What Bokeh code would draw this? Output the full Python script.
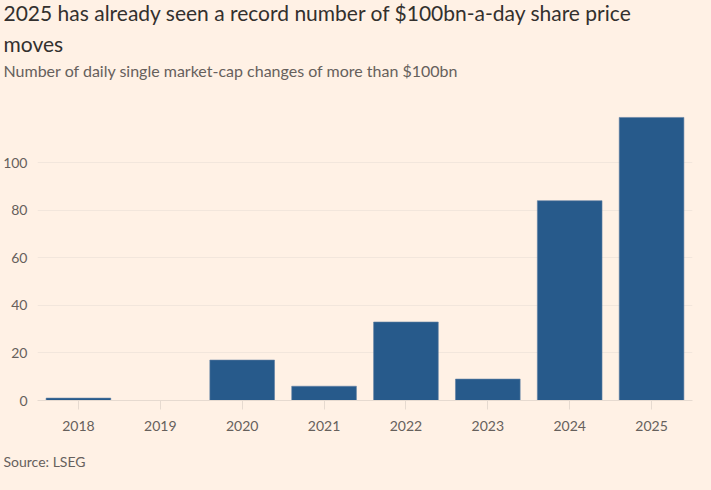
from bokeh.plotting import figure
from bokeh.models import Title, Range1d, FactorRange, ColumnDataSource
from bokeh.embed import file_html
from bokeh.resources import INLINE

years = ["2018", "2019", "2020", "2021", "2022", "2023", "2024", "2025"]
counts = [1, 0, 17, 6, 33, 9, 84, 119]
y_ticks = [0, 20, 40, 60, 80, 100]

title_text = "2025 has already seen a record number of $100bn-a-day share price\nmoves"
subtitle = "Number of daily single market-cap changes of more than $100bn"
source_text = "Source: LSEG"

BG = "#fff1e5"
FONT = "Lato"

src = ColumnDataSource(dict(x=years, top=counts))

p = figure(width=695, height=474, x_range=FactorRange(*years, range_padding=0),
           y_range=Range1d(0, 132), output_backend="svg", toolbar_location=None,
           min_border_left=34, min_border_right=3, min_border_top=0, min_border_bottom=0)
p.background_fill_color = BG
p.border_fill_color = BG
p.outline_line_color = None

p.vbar(x="x", top="top", width=0.79, source=src, color="#275a8b",
       line_color="#5f7fa3", line_width=0.6)

p.xgrid.grid_line_color = None
p.ygrid.grid_line_color = "#f2e6dc"
p.ygrid.ticker = y_ticks

p.yaxis.ticker = y_ticks
p.yaxis.axis_line_color = None
p.yaxis.major_tick_line_color = None
p.yaxis.minor_tick_line_color = None
p.yaxis.major_label_text_font = FONT
p.yaxis.major_label_text_font_size = "14px"
p.yaxis.major_label_text_color = "#66605c"
p.yaxis.major_label_standoff = 4

p.xaxis.axis_line_color = "#e6dad0"
p.xaxis.major_tick_line_color = "#e6dad0"
p.xaxis.major_tick_out = 9
p.xaxis.major_tick_in = 0
p.xaxis.major_label_text_font = FONT
p.xaxis.major_label_text_font_size = "14px"
p.xaxis.major_label_text_color = "#66605c"
p.xaxis.major_label_standoff = 11

p.title.visible = False

spacer = Title(text=" ", align="left", text_font=FONT, text_font_size="1px",
               text_color=BG, offset=-34, standoff=9)
src_t = Title(text=source_text, align="left", text_font=FONT, text_font_size="14px",
              text_font_style="normal", text_color="#66605c", offset=-34, standoff=10)
p.add_layout(spacer, "below")
p.add_layout(src_t, "below")

t_sub = Title(text=subtitle, align="left", text_font=FONT, text_font_size="16px",
              text_font_style="normal", text_color="#66605c", offset=-34, standoff=13)
t1 = Title(text=title_text, align="left", text_font=FONT, text_font_size="21px",
           text_line_height=1.24,
           text_font_style="normal", text_color="#33302e", offset=-34, standoff=-6)
p.add_layout(t_sub, "above")
p.add_layout(t1, "above")

html = file_html(p, INLINE)
html = html.replace("<head>", "<head><style>body{background:#fff1e5;}</style>", 1)
open("out.html", "w").write(html)
